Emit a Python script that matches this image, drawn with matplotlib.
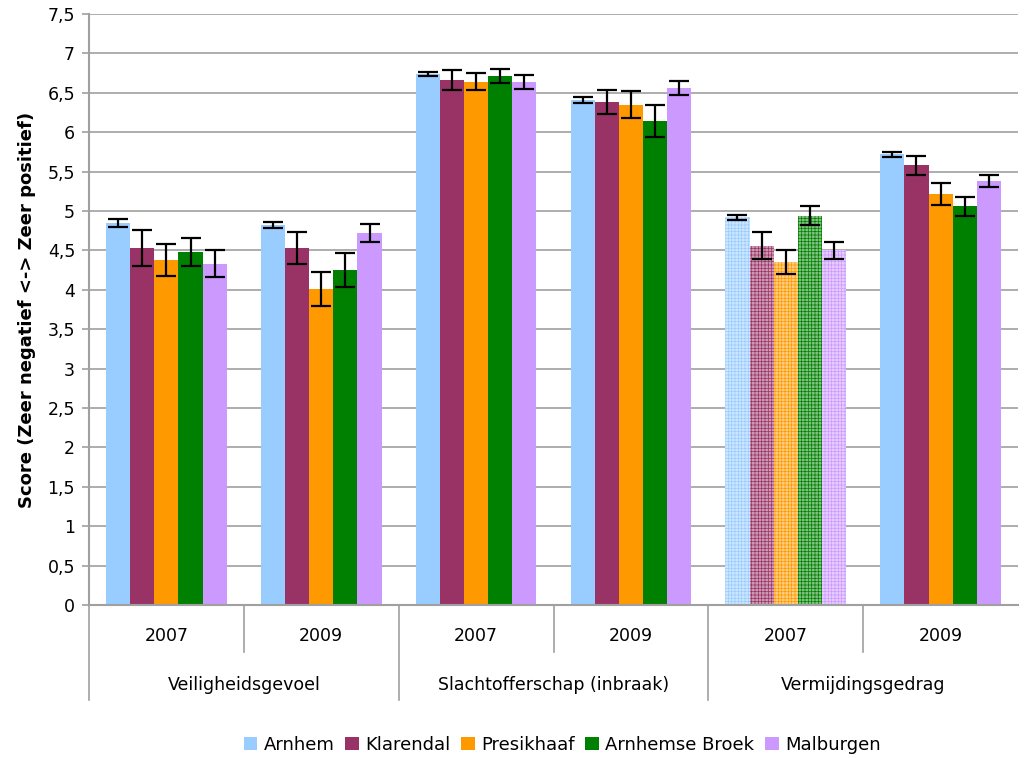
import matplotlib
matplotlib.use("Agg")
import matplotlib.pyplot as plt
import numpy as np
from matplotlib.colors import to_rgb
from matplotlib.lines import Line2D
from matplotlib.patches import Patch

plt.rcParams['font.family'] = ['DejaVu Sans']
plt.rcParams['hatch.linewidth'] = 0.5

categories = ["Veiligheidsgevoel", "Slachtofferschap (inbraak)", "Vermijdingsgedrag"]
years = ["2007", "2009"]
series = ["Arnhem", "Klarendal", "Presikhaaf", "Arnhemse Broek", "Malburgen"]
colors = ["#99ccff", "#993366", "#ff9900", "#008000", "#cc99ff"]

# values per series, over the 6 groups (cat x year)
arnhem      = [4.85, 4.82, 6.74, 6.41, 4.92, 5.72]
klarendal   = [4.53, 4.53, 6.66, 6.38, 4.56, 5.58]
presikhaaf  = [4.38, 4.01, 6.64, 6.35, 4.35, 5.22]
arnh_broek  = [4.48, 4.25, 6.71, 6.14, 4.94, 5.06]
malburgen   = [4.33, 4.72, 6.64, 6.56, 4.50, 5.38]

err_arnhem     = [0.05, 0.04, 0.03, 0.04, 0.03, 0.03]
err_klarendal  = [0.23, 0.20, 0.13, 0.15, 0.17, 0.12]
err_presikhaaf = [0.20, 0.22, 0.11, 0.17, 0.15, 0.14]
err_arnh_broek = [0.18, 0.22, 0.09, 0.20, 0.12, 0.12]
err_malburgen  = [0.17, 0.11, 0.09, 0.09, 0.11, 0.08]

values = [arnhem, klarendal, presikhaaf, arnh_broek, malburgen]
errors = [err_arnhem, err_klarendal, err_presikhaaf, err_arnh_broek, err_malburgen]
hatched_group = 4  # Vermijdingsgedrag 2007 drawn with pattern

fig = plt.figure(figsize=(10.29, 7.58), dpi=100)
ax = fig.add_axes([89/1029, 1-605/758, (1018-89)/1029, (605-14)/758])

ngroups = len(categories) * len(years)
x = np.arange(ngroups)
bw = 0.156
for i, (name, col) in enumerate(zip(series, colors)):
    pos = x - 2*bw + i*bw
    for g in range(ngroups):
        if g == hatched_group:
            light = tuple(0.5*np.array(to_rgb(col)) + 0.5)
            ax.bar(pos[g], values[i][g], width=bw, color=light, edgecolor=col,
                   hatch='+++++', linewidth=0, zorder=2)
        else:
            ax.bar(pos[g], values[i][g], width=bw, color=col, linewidth=0, zorder=2)
    ax.errorbar(pos, values[i], yerr=errors[i], fmt='none', ecolor='black',
                elinewidth=1.6, capsize=7, capthick=1.6, zorder=3)

ax.set_xlim(-0.5, ngroups-0.5)
ax.set_ylim(0, 7.5)
yt = np.arange(0, 7.51, 0.5)
ax.set_yticks(yt)
ax.set_yticklabels([("%g" % v).replace('.', ',') for v in yt], fontsize=12.5)
ax.yaxis.grid(True, color='#a0a0a0', linewidth=1.2, zorder=0)
ax.set_axisbelow(True)
ax.tick_params(axis='y', length=5, color='#a0a0a0', width=1.2, pad=5)
ax.set_xticks([])
for s in ['top', 'right']:
    ax.spines[s].set_visible(False)
for s in ['left', 'bottom']:
    ax.spines[s].set_color('#a0a0a0')
    ax.spines[s].set_linewidth(1.5)

ax.set_ylabel("Score (Zeer negatief <-> Zeer positief)", fontsize=13,
              fontweight='bold', labelpad=8)

# two-level category axis
trans = ax.get_xaxis_transform()
ax_h = (605-14)
def yfrac(px):
    return -(px-605)/ax_h

for g in range(ngroups):
    ax.text(x[g], yfrac(636), years[g % 2], transform=trans, ha='center',
            va='center', fontsize=12.5)
for c in range(len(categories)):
    ax.text(2*c+0.5, yfrac(685), categories[c], transform=trans, ha='center',
            va='center', fontsize=12.5)
# separator lines
ax.add_line(Line2D([-0.5, -0.5], [0, yfrac(700)], transform=trans, color='#a0a0a0',
                   linewidth=1.2, clip_on=False))
for g in range(1, ngroups):
    bottom = yfrac(700) if g % 2 == 0 else yfrac(652)
    ax.add_line(Line2D([g-0.5, g-0.5], [0, bottom], transform=trans, color='#a0a0a0',
                       linewidth=1.2, clip_on=False))

handles = [Patch(facecolor=c, edgecolor='none') for c in colors]
fig.legend(handles, series, loc='center', bbox_to_anchor=(562/1029, 1-745/758),
           ncol=5, frameon=False, fontsize=13, handlelength=0.75, handleheight=0.75,
           handletextpad=0.35, columnspacing=0.6)

fig.savefig("out.png", dpi=100)
